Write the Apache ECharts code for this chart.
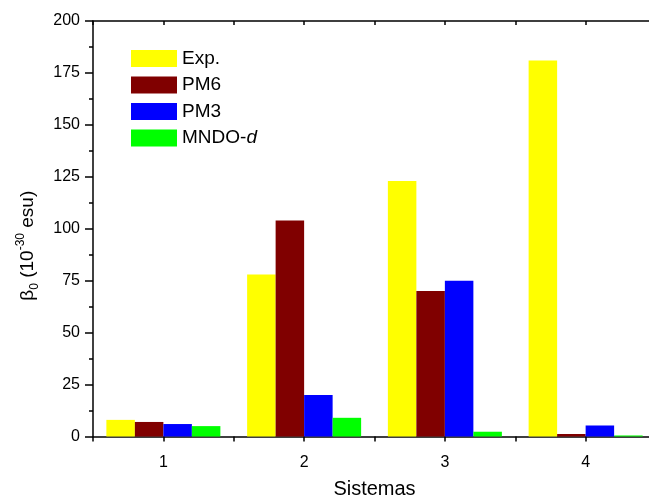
<!DOCTYPE html>
<html>
<head>
<meta charset="utf-8">
<script src="https://cdn.jsdelivr.net/npm/echarts@6/dist/echarts.min.js"></script>
<style>
  html, body { margin: 0; padding: 0; background: #fff; }
  #chart { width: 649px; height: 498px; }
</style>
</head>
<body>
<div id="chart"></div>
<script>
const categories = ['1', '2', '3', '4']
const expValues = [8, 78, 123, 181]
const pm6Values = [7, 104, 70, 1.2]
const pm3Values = [6, 20, 75, 5.3]
const mndoValues = [5, 9, 2.3, 0.5]
const seriesNames = ['Exp.', 'PM6', 'PM3', 'MNDO-d']
const seriesColors = ['#ffff00', '#800000', '#0000ff', '#00ff00']

const font = 'Liberation Sans, Arial, sans-serif'
const chart = echarts.init(document.getElementById('chart'))

const makeBar = (name, data, color) => ({
  name,
  type: 'bar',
  xAxisIndex: 0,
  yAxisIndex: 0,
  barGap: 0,
  barCategoryGap: '19%',
  itemStyle: { color },
  data
})

const option = {
  animation: false,
  backgroundColor: '#fff',
  textStyle: { fontFamily: font, color: '#000' },
  grid: { left: 93, top: 21, right: -7, bottom: 61.5, containLabel: false, outerBoundsMode: 'none' },
  legend: {
    orient: 'vertical',
    left: 131,
    top: 49,
    padding: 0,
    icon: 'rect',
    itemWidth: 46,
    itemHeight: 17,
    itemGap: 7.5,
    data: seriesNames,
    formatter: (name) => (name === 'MNDO-d' ? 'MNDO-{i|d}' : name),
    textStyle: {
      fontFamily: font,
      fontSize: 19,
      lineHeight: 17,
      color: '#000',
      rich: {
        i: { fontFamily: font, fontSize: 19, fontStyle: 'italic', color: '#000' }
      }
    }
  },
  xAxis: [
    {
      type: 'category',
      data: categories,
      position: 'bottom',
      axisLine: { lineStyle: { color: '#000', width: 1.5 } },
      axisTick: { alignWithLabel: true, length: 8, lineStyle: { color: '#000', width: 1.5 } },
      axisLabel: { fontFamily: font, fontSize: 16, color: '#000', margin: 18 },
      name: 'Sistemas',
      nameLocation: 'middle',
      nameGap: 43,
      nameTextStyle: { fontFamily: font, fontSize: 20, color: '#000' }
    },
    {
      // short ticks between categories
      type: 'value',
      position: 'bottom',
      min: 0.5,
      max: 4.5,
      interval: 0.5,
      axisLine: { show: false },
      axisTick: { show: true, length: 5, lineStyle: { color: '#000', width: 1.5 } },
      axisLabel: { show: false },
      splitLine: { show: false }
    },
    {
      // top frame line
      type: 'value',
      position: 'top',
      min: 0.5,
      max: 4.5,
      interval: 0.5,
      axisLine: { show: true, lineStyle: { color: '#000', width: 1.5 } },
      axisTick: { show: true, inside: true, length: 4, lineStyle: { color: '#000', width: 1.5 } },
      axisLabel: { show: false },
      splitLine: { show: false }
    }
  ],
  yAxis: {
    type: 'value',
    min: 0,
    max: 200,
    interval: 25,
    axisLine: { show: true, lineStyle: { color: '#000', width: 1.5 } },
    axisTick: { length: 8, lineStyle: { color: '#000', width: 1.5 } },
    minorTick: { show: true, splitNumber: 2, length: 4, lineStyle: { color: '#000', width: 1.5 } },
    axisLabel: { fontFamily: font, fontSize: 16, color: '#000', margin: 13 },
    splitLine: { show: false },
    name: 'β{sub|0} (10{sup|-30} esu)',
    nameLocation: 'middle',
    nameGap: 52,
    nameTextStyle: {
      fontFamily: font,
      fontSize: 19,
      color: '#000',
      lineHeight: 26,
      padding: [0, 34, 0, 0],
      rich: {
        sub: { fontFamily: font, fontSize: 12, color: '#000', verticalAlign: 'bottom', lineHeight: 26 },
        sup: { fontFamily: font, fontSize: 12, color: '#000', verticalAlign: 'top', lineHeight: 26 }
      }
    }
  },
  series: [
    makeBar(seriesNames[0], expValues, seriesColors[0]),
    makeBar(seriesNames[1], pm6Values, seriesColors[1]),
    makeBar(seriesNames[2], pm3Values, seriesColors[2]),
    makeBar(seriesNames[3], mndoValues, seriesColors[3])
  ]
}

chart.setOption(option)
</script>
</body>
</html>
